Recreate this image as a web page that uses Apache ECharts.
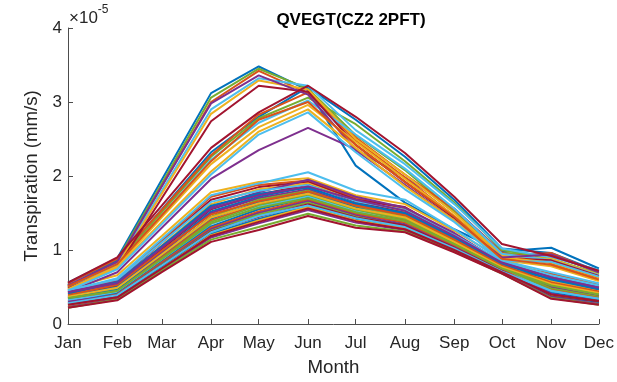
<!DOCTYPE html>
<html>
<head>
<meta charset="utf-8">
<script src="https://cdn.jsdelivr.net/npm/echarts@6/dist/echarts.min.js"></script>
<style>
html,body{margin:0;padding:0;background:#fff;}
#chart{width:617px;height:382px;}
</style>
</head>
<body>
<div id="chart"></div>
<script>
// Month tick labels and their positions (day of year at month start)
const months = ['Jan','Feb','Mar','Apr','May','Jun','Jul','Aug','Sep','Oct','Nov','Dec'];
const monthDays = [0,31,59,90,120,151,181,212,243,273,304,334];
const yTicks = [0,1,2,3,4];

// Values in units of 1e-5 mm/s, Jan..Dec
const upperEarly = [
  [0.56,0.89,1.95,3.12,3.48,3.16,2.14,1.64,1.28,0.98,1.03,0.75],
  [0.53,0.86,1.90,3.06,3.45,3.18,2.55,2.08,1.52,0.96,0.93,0.71],
  [0.51,0.83,1.86,3.00,3.42,3.12,2.48,1.98,1.46,0.92,0.96,0.69],
  [0.54,0.81,1.80,2.90,3.32,3.22,2.62,2.16,1.62,1.02,0.90,0.73],
  [0.50,0.79,1.76,2.84,3.29,3.17,2.50,2.02,1.50,0.93,0.88,0.67],
  [0.48,0.76,1.70,2.74,3.22,3.14,2.42,1.92,1.43,0.89,0.86,0.65],
  [0.52,0.84,1.86,2.98,3.36,3.10,2.35,1.88,1.40,0.90,0.94,0.70]
];
const upperJune = [
  [0.43,0.70,1.30,1.96,2.35,2.65,2.36,1.98,1.56,0.97,0.85,0.65],
  [0.53,0.86,1.55,2.32,2.80,3.20,2.76,2.26,1.68,1.02,0.96,0.71],
  [0.50,0.83,1.51,2.26,2.78,3.06,2.70,2.20,1.64,1.00,0.88,0.68],
  [0.55,0.88,1.54,2.28,2.83,3.13,2.52,2.02,1.55,0.96,0.82,0.62],
  [0.49,0.80,1.47,2.22,2.72,3.02,2.56,2.10,1.56,0.95,0.86,0.66],
  [0.47,0.78,1.44,2.16,2.66,2.96,2.46,1.96,1.46,0.90,0.83,0.63],
  [0.56,0.90,1.60,2.38,2.86,3.22,2.80,2.31,1.72,1.08,0.92,0.72],
  [0.46,0.76,1.38,2.06,2.60,2.90,2.38,1.86,1.40,0.86,0.78,0.58],
  [0.45,0.74,1.35,2.02,2.56,2.86,2.32,1.82,1.38,0.85,0.84,0.64],
  [0.51,0.81,1.47,2.20,2.76,3.00,2.42,1.92,1.45,0.88,0.80,0.60]
];
const lowerBand = [
  [0.42,0.60,1.13,1.72,1.88,1.94,1.70,1.56,1.22,0.82,0.68,0.53],
  [0.48,0.66,1.19,1.78,1.92,1.97,1.74,1.62,1.26,0.88,0.64,0.50],
  [0.45,0.62,1.15,1.74,1.90,2.05,1.80,1.68,1.28,0.86,0.70,0.55],
  [0.40,0.58,1.10,1.68,1.85,1.92,1.68,1.58,1.20,0.84,0.60,0.48],
  [0.38,0.55,1.06,1.62,1.82,1.90,1.66,1.52,1.18,0.80,0.58,0.46],
  [0.44,0.57,1.05,1.58,1.78,1.95,1.72,1.57,1.23,0.83,0.65,0.50],
  [0.36,0.52,1.01,1.55,1.75,1.88,1.65,1.50,1.15,0.78,0.55,0.43],
  [0.37,0.50,0.98,1.52,1.72,1.85,1.62,1.48,1.15,0.79,0.52,0.41],
  [0.34,0.48,0.96,1.50,1.70,1.82,1.60,1.45,1.12,0.76,0.50,0.38],
  [0.33,0.47,0.94,1.45,1.68,1.80,1.58,1.46,1.12,0.77,0.48,0.37],
  [0.35,0.46,0.92,1.42,1.65,1.78,1.57,1.42,1.10,0.75,0.62,0.47],
  [0.31,0.44,0.90,1.40,1.62,1.75,1.55,1.40,1.08,0.74,0.46,0.35],
  [0.30,0.43,0.88,1.38,1.60,1.74,1.54,1.42,1.10,0.76,0.45,0.33],
  [0.32,0.42,0.86,1.35,1.58,1.72,1.52,1.38,1.06,0.73,0.44,0.34],
  [0.29,0.41,0.84,1.32,1.55,1.70,1.50,1.36,1.05,0.72,0.42,0.32],
  [0.28,0.40,0.83,1.30,1.52,1.68,1.49,1.37,1.06,0.74,0.40,0.31],
  [0.30,0.39,0.81,1.28,1.50,1.66,1.47,1.34,1.04,0.72,0.41,0.30],
  [0.27,0.38,0.80,1.26,1.48,1.64,1.45,1.32,1.02,0.71,0.38,0.30],
  [0.26,0.37,0.79,1.25,1.45,1.62,1.44,1.33,1.03,0.72,0.37,0.29],
  [0.25,0.36,0.77,1.22,1.42,1.60,1.42,1.30,1.01,0.70,0.36,0.28],
  [0.24,0.35,0.75,1.20,1.40,1.58,1.40,1.29,1.00,0.70,0.35,0.27],
  [0.23,0.34,0.73,1.17,1.36,1.54,1.37,1.27,0.99,0.69,0.36,0.27],
  [0.22,0.33,0.72,1.14,1.31,1.49,1.33,1.25,0.98,0.68,0.35,0.26],
  [0.46,0.60,1.10,1.65,1.80,1.88,1.66,1.54,1.20,0.85,0.66,0.52],
  [0.22,0.32,0.70,1.11,1.27,1.46,1.30,1.24,0.97,0.68,0.34,0.26],
  [0.41,0.56,1.05,1.60,1.76,1.84,1.63,1.50,1.17,0.81,0.60,0.47],
  [0.39,0.53,0.99,1.48,1.66,1.79,1.60,1.47,1.14,0.79,0.56,0.44],
  [0.37,0.49,0.94,1.44,1.63,1.76,1.56,1.44,1.11,0.77,0.54,0.42],
  [0.43,0.55,1.03,1.56,1.74,1.86,1.68,1.53,1.19,0.83,0.63,0.49],
  [0.35,0.45,0.88,1.36,1.57,1.70,1.51,1.39,1.08,0.75,0.52,0.40],
  [0.28,0.39,0.79,1.24,1.46,1.60,1.43,1.31,1.02,0.71,0.45,0.34],
  [0.26,0.36,0.75,1.19,1.38,1.56,1.39,1.28,1.00,0.70,0.40,0.31]
];

const palette = ['#0072BD','#D95319','#EDB120','#7E2F8E','#77AC30','#4DBEEE','#A2142F'];

// interleave groups so colours mix as in the original plot order
const allLines = [];
const groups = [upperEarly, lowerBand, upperJune];
let idx = [0,0,0];
let turn = 0;
const total = lowerBand.length + upperJune.length + upperEarly.length;
while (allLines.length < total) {
  const g = turn % 3;
  if (idx[g] < groups[g].length) { allLines.push(groups[g][idx[g]]); idx[g]++; }
  if (g === 1 && idx[1] < lowerBand.length) { allLines.push(lowerBand[idx[1]]); idx[1]++; }
  turn++;
}

const series = allLines.map((vals, i) => ({
  type: 'line',
  data: vals.map((v, k) => [monthDays[k], v]),
  showSymbol: false,
  symbol: 'none',
  lineStyle: { width: 2, color: palette[i % 7] },
  itemStyle: { color: palette[i % 7] },
  silent: true
}));

const axisColor = '#262626';
const font = 'Liberation Sans, Arial, sans-serif';
const chart = echarts.init(document.getElementById('chart'), null, { renderer: 'canvas' });
chart.setOption({
  animation: false,
  backgroundColor: '#ffffff',
  grid: { left: 68, right: 18, top: 28, bottom: 53, containLabel: false },
  title: {
    text: 'QVEGT(CZ2 2PFT)',
    left: 346, top: 7, textAlign: 'center',
    textStyle: { fontFamily: font, fontWeight: 'bold', fontSize: 17, color: '#000' }
  },
  xAxis: {
    type: 'value', min: 0, max: 334,
    name: 'Month', nameLocation: 'middle', nameGap: 34,
    nameTextStyle: { fontFamily: font, fontSize: 18.7, color: axisColor },
    axisLine: { show: true, lineStyle: { color: '#4d4d4d', width: 1 } },
    axisTick: { show: true, inside: true, length: 5, customValues: monthDays, lineStyle: { color: '#4d4d4d' } },
    axisLabel: {
      customValues: monthDays,
      formatter: (v) => months[monthDays.indexOf(Math.round(v))] || '',
      fontFamily: font, fontSize: 17, color: axisColor, margin: 11
    },
    splitLine: { show: false }
  },
  yAxis: {
    type: 'value', min: 0, max: 4, interval: 1,
    name: 'Transpiration (mm/s)', nameLocation: 'middle', nameGap: 23,
    nameTextStyle: { fontFamily: font, fontSize: 18.7, color: axisColor },
    axisLine: { show: true, lineStyle: { color: '#4d4d4d', width: 1 } },
    axisTick: { show: true, inside: true, length: 5, lineStyle: { color: '#4d4d4d' } },
    axisLabel: {
      formatter: (v) => String(yTicks[yTicks.indexOf(v)]),
      fontFamily: font, fontSize: 17, color: axisColor, margin: 6
    },
    splitLine: { show: false }
  },
  graphic: [{
    type: 'text', left: 69, top: 4,
    style: {
      text: '{a|×10}{b|-5}',
      rich: {
        a: { fontFamily: font, fontSize: 17, fill: axisColor, padding: [10,0,0,0] },
        b: { fontFamily: font, fontSize: 12, fill: axisColor, padding: [0,0,6,0] }
      }
    }
  }],
  series: series
});
</script>
</body>
</html>
